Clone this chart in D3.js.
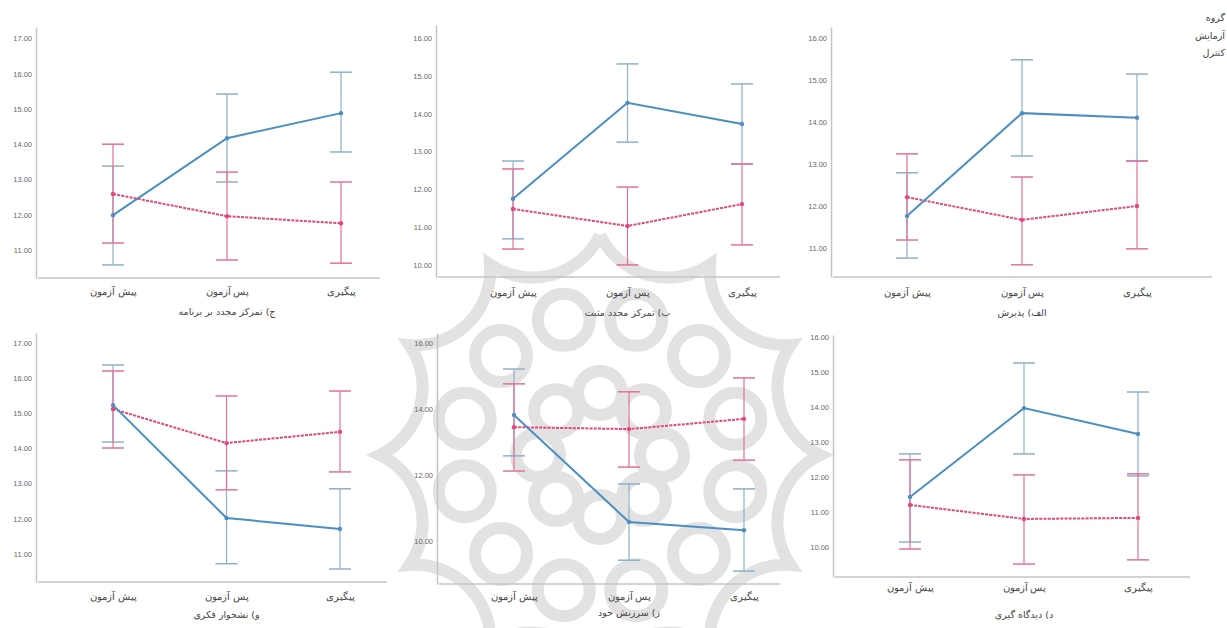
<!DOCTYPE html>
<html><head><meta charset="utf-8">
<script src="https://cdn.jsdelivr.net/npm/d3@7"></script>
<style>
html,body{margin:0;padding:0;background:#fff;}
svg{display:block;font-family:"DejaVu Sans","Noto Sans",sans-serif;}
</style></head>
<body>
<svg id="chart" width="1227" height="628"></svg>
<script>
// ---- data ----
const categories = ["پیش آزمون", "پس آزمون", "پیگیری"];
const panelTitles = [
  "ج) تمرکز مجدد بر برنامه",
  "ب) تمرکز مجدد مثبت",
  "الف) پذیرش",
  "و) نشخوار فکری",
  "ز) سرزنش خود",
  "د) دیدگاه گیری"
];
const groupNames = ["گروه", "آزمایش", "کنترل"];

const tickValues = [
  [11, 12, 13, 14, 15, 16, 17],
  [10, 11, 12, 13, 14, 15, 16],
  [11, 12, 13, 14, 15, 16],
  [11, 12, 13, 14, 15, 16, 17],
  [10, 12, 14, 16],
  [10, 11, 12, 13, 14, 15, 16]
];

// experimental group (blue)
const expMean = [
  [11.99, 14.17, 14.88],
  [11.75, 14.29, 13.73],
  [11.76, 14.21, 14.10],
  [15.23, 12.02, 11.71],
  [13.82, 10.58, 10.33],
  [11.43, 13.97, 13.23]
];
const expLow = [
  [10.58, 12.93, 13.78],
  [10.69, 13.25, 12.67],
  [10.76, 13.19, 13.07],
  [14.18, 10.72, 10.57],
  [12.58, 9.42, 9.09],
  [10.14, 12.66, 12.03]
];
const expHigh = [
  [13.38, 15.42, 16.04],
  [12.75, 15.32, 14.79],
  [12.79, 15.48, 15.14],
  [16.37, 13.36, 12.85],
  [15.21, 11.73, 11.58],
  [12.66, 15.26, 14.43]
];
// control group (red)
const ctlMean = [
  [12.59, 11.96, 11.76],
  [11.48, 11.03, 11.61],
  [12.21, 11.67, 12.00],
  [15.12, 14.15, 14.47],
  [13.45, 13.39, 13.70],
  [11.20, 10.80, 10.83]
];
const ctlLow = [
  [11.20, 10.72, 10.63],
  [10.42, 10.00, 10.53],
  [11.19, 10.60, 10.98],
  [14.01, 12.82, 13.33],
  [12.12, 12.24, 12.45],
  [9.94, 9.51, 9.63]
];
const ctlHigh = [
  [14.00, 13.21, 12.93],
  [12.54, 12.06, 12.67],
  [13.24, 12.69, 13.07],
  [16.20, 15.49, 15.63],
  [14.76, 14.52, 14.94],
  [12.49, 12.06, 12.09]
];
const yDomains = [
  [10.21, 17.32],
  [9.68, 16.35],
  [10.31, 16.26],
  [10.20, 17.28],
  [8.70, 16.30],
  [9.14, 16.06]
];

// ---- layout ----
const layout = [
  {axL: 36,  axR: 380,  top: 27,  bot: 278, c0: 113, c2: 341,  catY: 295, titleY: 315},
  {axL: 436, axR: 780,  top: 25,  bot: 277, c0: 513, c2: 742,  catY: 296, titleY: 316},
  {axL: 831, axR: 1212, top: 27,  bot: 277, c0: 907, c2: 1137, catY: 296, titleY: 316},
  {axL: 36,  axR: 387,  top: 333, bot: 582, c0: 113, c2: 340,  catY: 600, titleY: 618},
  {axL: 437, axR: 780,  top: 333, bot: 584, c0: 514, c2: 744,  catY: 600, titleY: 616},
  {axL: 833, axR: 1190, top: 335, bot: 577, c0: 910, c2: 1138, catY: 591, titleY: 618}
];

const blue = "#4b8fc2", blueBar = "#8fb0c8";
const red = "#e2477d", redBar = "#e2719a";

const svg = d3.select("#chart");
svg.append("rect").attr("width", 1227).attr("height", 628).attr("fill", "#fff");

// ---- watermark (background logo) ----
const wm = svg.append("g").attr("fill", "none").attr("stroke", "#cfcfcf")
  .attr("stroke-width", 12).attr("opacity", 0.6);
const cx = 600, cy = 455, R = 220;
const tips = d3.range(12).map(k => {
  const a = (-90 + k * 30) * Math.PI / 180;
  return [cx + R * Math.cos(a), cy + R * Math.sin(a)];
});
let dPath = "M" + tips[0][0] + "," + tips[0][1];
for (let k = 1; k <= 12; k++) {
  const t = tips[k % 12];
  dPath += " A75,75 0 0 0 " + t[0] + "," + t[1];
}
wm.append("path").attr("d", dPath);
d3.range(12).forEach(k => {
  const a = (-75 + k * 30) * Math.PI / 180;
  wm.append("circle").attr("cx", cx + 140 * Math.cos(a)).attr("cy", cy + 140 * Math.sin(a)).attr("r", 26);
});
d3.range(8).forEach(k => {
  const a = (k * 45) * Math.PI / 180;
  wm.append("circle").attr("cx", cx + 62 * Math.cos(a)).attr("cy", cy + 62 * Math.sin(a)).attr("r", 22);
});

// ---- panels ----
layout.forEach((L, i) => {
  const g = svg.append("g");
  const x = d3.scalePoint().domain(categories).range([L.c0, L.c2]);
  const y = d3.scaleLinear().domain(yDomains[i]).range([L.bot, L.top]);

  // y axis
  const ya = g.append("g").attr("transform", `translate(${L.axL},0)`)
    .call(d3.axisLeft(y).tickValues(tickValues[i]).tickFormat(d3.format(".2f")).tickSize(0).tickPadding(4));
  ya.select(".domain").attr("stroke", "#c4c4c4").attr("stroke-width", 1.5);
  ya.selectAll("text").attr("fill", "#6a6a6a").attr("font-size", 7.5);

  // x axis
  const xa = g.append("g").attr("transform", `translate(0,${L.bot})`)
    .call(d3.axisBottom(x).tickSize(0).tickPadding(0));
  xa.select(".domain").remove();
  xa.selectAll("text").attr("fill", "#444").attr("font-size", 9.5)
    .attr("y", L.catY - L.bot).attr("dy", 0);
  g.append("line").attr("x1", L.axL + 2).attr("x2", L.axR).attr("y1", L.bot).attr("y2", L.bot)
    .attr("stroke", "#c4c4c4").attr("stroke-width", 1.5);

  // axis title
  g.append("text").attr("x", (L.c0 + L.c2) / 2).attr("y", L.titleY)
    .attr("text-anchor", "middle").attr("font-size", 9.5).attr("fill", "#444")
    .text(panelTitles[i]);

  const series = [
    {mean: expMean[i], lo: expLow[i], hi: expHigh[i], col: blue, bar: blueBar, dash: null},
    {mean: ctlMean[i], lo: ctlLow[i], hi: ctlHigh[i], col: red, bar: redBar, dash: "3,1.2"}
  ];
  // error bars
  series.forEach(s => {
    categories.forEach((c, j) => {
      const xx = x(c);
      g.append("line").attr("x1", xx).attr("x2", xx).attr("y1", y(s.lo[j])).attr("y2", y(s.hi[j]))
        .attr("stroke", s.bar).attr("stroke-width", 1.2);
      [s.lo[j], s.hi[j]].forEach(v => {
        g.append("line").attr("x1", xx - 11).attr("x2", xx + 11).attr("y1", y(v)).attr("y2", y(v))
          .attr("stroke", s.bar).attr("stroke-width", 1.5);
      });
    });
  });
  // lines
  series.slice().reverse().forEach(s => {
    const line = d3.line().x((d, j) => x(categories[j])).y(d => y(d));
    g.append("path").attr("d", line(s.mean)).attr("fill", "none")
      .attr("stroke", s.col).attr("stroke-width", 2)
      .attr("stroke-dasharray", s.dash);
    s.mean.forEach((v, j) => {
      g.append("circle").attr("cx", x(categories[j])).attr("cy", y(v)).attr("r", 2.2).attr("fill", s.col);
    });
  });
});

// ---- legend ----
const lg = svg.append("g").attr("font-size", 9.5).attr("fill", "#444").attr("text-anchor", "end");
[18, 36, 53].forEach((yy, k) => {
  lg.append("text").attr("x", 1225).attr("y", yy + 3).text(groupNames[k]);
});
</script>
</body></html>
